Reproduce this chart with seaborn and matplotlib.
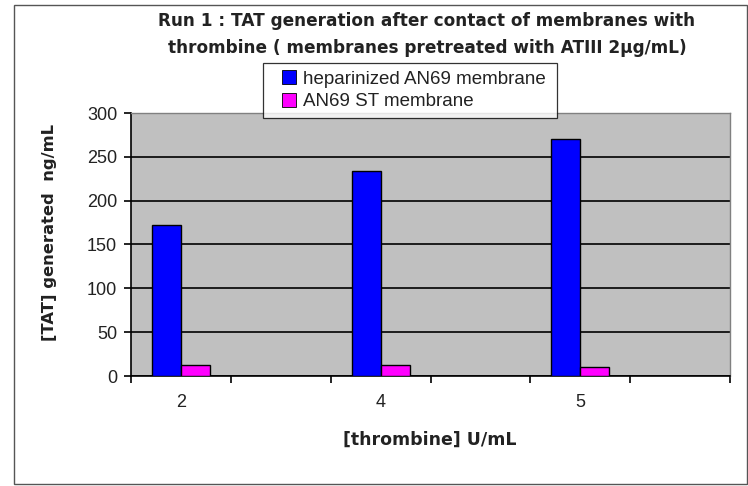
import matplotlib
matplotlib.use("Agg")
import matplotlib.pyplot as plt
import seaborn as sns
import pandas as pd
import numpy as np
from matplotlib.patches import Rectangle
from matplotlib.lines import Line2D

# ---- data ----
category_keys = ["2", "c2", "4", "c4", "5", "c6"]
tick_labels = ["2", "", "4", "", "5", ""]
heparinized = [172, np.nan, 234, np.nan, 270, np.nan]
an69_st = [12, np.nan, 12, np.nan, 10, np.nan]
series_names = ["heparinized AN69 membrane", "AN69 ST membrane"]
colors = ["#0000FF", "#FF00FF"]

df = pd.DataFrame({
    "cat": category_keys * 2,
    "val": heparinized + an69_st,
    "series": [series_names[0]] * 6 + [series_names[1]] * 6,
})

sns.set_style("white")
plt.rcParams["font.family"] = ["Liberation Sans", "DejaVu Sans"]

TXT = "#222222"
fig = plt.figure(figsize=(7.48, 4.86), dpi=100)
W, H = 748, 486
x0, x1, y0, y1 = 131, 730, 113, 376
ax = fig.add_axes([x0 / W, 1 - y1 / H, (x1 - x0) / W, (y1 - y0) / H])
ax.set_facecolor("#C0C0C0")

sns.barplot(data=df, x="cat", y="val", hue="series", order=category_keys,
            hue_order=series_names, palette=colors, width=0.58, saturation=1,
            edgecolor="black", linewidth=1.0, ax=ax, legend=False, zorder=3)

ax.set_xlim(-0.5, 5.5)
ax.set_ylim(0, 300)
ax.set_yticks([0, 50, 100, 150, 200, 250, 300])
ax.yaxis.grid(True, color="black", linewidth=1.2, zorder=1)
ax.set_axisbelow(True)

for s in ["top", "right"]:
    ax.spines[s].set_color("#808080")
    ax.spines[s].set_linewidth(1.0)
for s in ["left", "bottom"]:
    ax.spines[s].set_color("black")
    ax.spines[s].set_linewidth(1.2)

ax.set_xticks(range(6))
ax.set_xticklabels(tick_labels)
ax.set_xticks(np.arange(-0.5, 6.0, 1.0), minor=True)
ax.tick_params(axis="x", which="major", length=0, pad=13, labelsize=13, labelcolor=TXT)
ax.tick_params(axis="x", which="minor", length=5, width=1.2, direction="out", color="black", bottom=True)
ax.tick_params(axis="y", length=5, width=1.2, direction="out", color="black", left=True,
               labelsize=13, labelcolor=TXT, pad=5)

bold = dict(family=["DejaVu Sans"], fontweight="bold", color=TXT)
ax.set_xlabel("")
ax.set_ylabel("")
fig.text(430 / W, 1 - 440 / H, "[thrombine] U/mL", ha="center", va="center", fontsize=12.5, **bold)
fig.text(50 / W, 1 - 232 / H, "[TAT] generated  ng/mL", ha="center", va="center",
         rotation=90, fontsize=11.8, **bold)

fig.text(427 / W, 1 - 34.5 / H,
         "Run 1 : TAT generation after contact of membranes with\nthrombine ( membranes pretreated with ATIII 2µg/mL)",
         ha="center", va="center", fontsize=12.2, linespacing=1.6, **bold)

handles = [Line2D([], [], linestyle="none", marker="s", markersize=9.4,
                  markerfacecolor=c, markeredgecolor="black", markeredgewidth=0.6)
           for c in colors]
lx0, lx1, ly0 = 263, 557, 63
leg = ax.legend(handles, series_names, loc="upper left",
                bbox_to_anchor=((lx0 - x0) / (x1 - x0), (y1 - ly0) / (y1 - y0),
                                (lx1 - lx0) / (x1 - x0), 0.0),
                mode="expand", frameon=True, fancybox=False, fontsize=13.5,
                handlelength=1.9, handletextpad=-0.2,
                borderpad=0.42, labelspacing=0.28, borderaxespad=0)
leg.get_frame().set_edgecolor("black")
leg.get_frame().set_linewidth(0.9)
leg.set_zorder(10)
for t in leg.get_texts():
    t.set_color(TXT)

fig.patches.append(Rectangle((14 / W, 1 - 484 / H), (747 - 14) / W, (484 - 5) / H,
                             transform=fig.transFigure, fill=False, edgecolor="#555555",
                             linewidth=1.0))

fig.savefig("out.png", dpi=100)
